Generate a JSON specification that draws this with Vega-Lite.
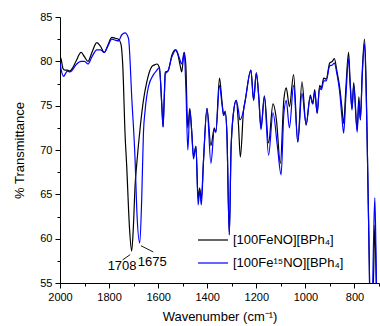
{
  "$schema": "https://vega.github.io/schema/vega-lite/v6.json",
  "width": 319,
  "height": 266,
  "autosize": {"type": "none"},
  "padding": {"left": 60, "top": 17, "right": 1, "bottom": 43},
  "config": {
    "view": {"stroke": null},
    "font": "Liberation Sans",
    "axis": {
      "grid": false,
      "domainColor": "#000000",
      "tickColor": "#000000",
      "labelColor": "#000000",
      "titleColor": "#000000",
      "labelFont": "Liberation Sans",
      "labelFontSize": 11,
      "titleFont": "Liberation Sans",
      "titleFontSize": 13,
      "titleFontWeight": "normal",
      "tickSize": 5,
      "tickWidth": 1,
      "domainWidth": 1
    },
    "legend": {
      "orient": "none",
      "legendX": 137,
      "legendY": 207,
      "symbolType": "stroke",
      "symbolSize": 900,
      "symbolStrokeWidth": 1.2,
      "labelFont": "Liberation Sans",
      "labelFontSize": 13,
      "labelColor": "#000000",
      "labelOffset": 4,
      "rowPadding": -5,
      "padding": 0
    }
  },
  "datasets": {
    "spectra": [
      {"s": "[100FeNO][BPh₄]", "wn": 2000, "t": 80.6},
      {"s": "[100FeNO][BPh₄]", "wn": 1995, "t": 80.2},
      {"s": "[100FeNO][BPh₄]", "wn": 1988, "t": 79.2},
      {"s": "[100FeNO][BPh₄]", "wn": 1980, "t": 79.0},
      {"s": "[100FeNO][BPh₄]", "wn": 1970, "t": 79.0},
      {"s": "[100FeNO][BPh₄]", "wn": 1960, "t": 78.9},
      {"s": "[100FeNO][BPh₄]", "wn": 1950, "t": 79.2},
      {"s": "[100FeNO][BPh₄]", "wn": 1935, "t": 80.0},
      {"s": "[100FeNO][BPh₄]", "wn": 1914, "t": 81.0},
      {"s": "[100FeNO][BPh₄]", "wn": 1900, "t": 80.5},
      {"s": "[100FeNO][BPh₄]", "wn": 1886, "t": 80.0},
      {"s": "[100FeNO][BPh₄]", "wn": 1870, "t": 81.0},
      {"s": "[100FeNO][BPh₄]", "wn": 1850, "t": 82.1},
      {"s": "[100FeNO][BPh₄]", "wn": 1835, "t": 81.7},
      {"s": "[100FeNO][BPh₄]", "wn": 1820, "t": 81.0},
      {"s": "[100FeNO][BPh₄]", "wn": 1805, "t": 81.8},
      {"s": "[100FeNO][BPh₄]", "wn": 1789, "t": 82.7},
      {"s": "[100FeNO][BPh₄]", "wn": 1775, "t": 82.6},
      {"s": "[100FeNO][BPh₄]", "wn": 1762, "t": 82.5},
      {"s": "[100FeNO][BPh₄]", "wn": 1752, "t": 82.0},
      {"s": "[100FeNO][BPh₄]", "wn": 1744, "t": 79.4},
      {"s": "[100FeNO][BPh₄]", "wn": 1735, "t": 71.9},
      {"s": "[100FeNO][BPh₄]", "wn": 1728, "t": 68.1},
      {"s": "[100FeNO][BPh₄]", "wn": 1717, "t": 61.3},
      {"s": "[100FeNO][BPh₄]", "wn": 1708, "t": 58.6},
      {"s": "[100FeNO][BPh₄]", "wn": 1701, "t": 61.3},
      {"s": "[100FeNO][BPh₄]", "wn": 1694, "t": 66.0},
      {"s": "[100FeNO][BPh₄]", "wn": 1687, "t": 68.5},
      {"s": "[100FeNO][BPh₄]", "wn": 1673, "t": 72.6},
      {"s": "[100FeNO][BPh₄]", "wn": 1660, "t": 75.6},
      {"s": "[100FeNO][BPh₄]", "wn": 1646, "t": 77.7},
      {"s": "[100FeNO][BPh₄]", "wn": 1626, "t": 79.4},
      {"s": "[100FeNO][BPh₄]", "wn": 1615, "t": 79.6},
      {"s": "[100FeNO][BPh₄]", "wn": 1605, "t": 79.7},
      {"s": "[100FeNO][BPh₄]", "wn": 1595, "t": 79.3},
      {"s": "[100FeNO][BPh₄]", "wn": 1585, "t": 75.0},
      {"s": "[100FeNO][BPh₄]", "wn": 1580, "t": 72.6},
      {"s": "[100FeNO][BPh₄]", "wn": 1575, "t": 76.0},
      {"s": "[100FeNO][BPh₄]", "wn": 1571, "t": 78.8},
      {"s": "[100FeNO][BPh₄]", "wn": 1560, "t": 78.9},
      {"s": "[100FeNO][BPh₄]", "wn": 1544, "t": 80.7},
      {"s": "[100FeNO][BPh₄]", "wn": 1531, "t": 81.3},
      {"s": "[100FeNO][BPh₄]", "wn": 1520, "t": 80.8},
      {"s": "[100FeNO][BPh₄]", "wn": 1510, "t": 79.5},
      {"s": "[100FeNO][BPh₄]", "wn": 1504, "t": 78.8},
      {"s": "[100FeNO][BPh₄]", "wn": 1494, "t": 81.0},
      {"s": "[100FeNO][BPh₄]", "wn": 1487, "t": 79.5},
      {"s": "[100FeNO][BPh₄]", "wn": 1482, "t": 74.0},
      {"s": "[100FeNO][BPh₄]", "wn": 1479, "t": 72.5},
      {"s": "[100FeNO][BPh₄]", "wn": 1471, "t": 74.7},
      {"s": "[100FeNO][BPh₄]", "wn": 1463, "t": 72.0},
      {"s": "[100FeNO][BPh₄]", "wn": 1456, "t": 69.3},
      {"s": "[100FeNO][BPh₄]", "wn": 1446, "t": 70.4},
      {"s": "[100FeNO][BPh₄]", "wn": 1437, "t": 64.5},
      {"s": "[100FeNO][BPh₄]", "wn": 1431, "t": 65.7},
      {"s": "[100FeNO][BPh₄]", "wn": 1424, "t": 64.5},
      {"s": "[100FeNO][BPh₄]", "wn": 1415, "t": 68.9},
      {"s": "[100FeNO][BPh₄]", "wn": 1401, "t": 74.7},
      {"s": "[100FeNO][BPh₄]", "wn": 1385, "t": 70.5},
      {"s": "[100FeNO][BPh₄]", "wn": 1371, "t": 72.5},
      {"s": "[100FeNO][BPh₄]", "wn": 1365, "t": 72.0},
      {"s": "[100FeNO][BPh₄]", "wn": 1350, "t": 78.1},
      {"s": "[100FeNO][BPh₄]", "wn": 1340, "t": 75.5},
      {"s": "[100FeNO][BPh₄]", "wn": 1333, "t": 73.9},
      {"s": "[100FeNO][BPh₄]", "wn": 1327, "t": 74.4},
      {"s": "[100FeNO][BPh₄]", "wn": 1320, "t": 72.0},
      {"s": "[100FeNO][BPh₄]", "wn": 1310, "t": 60.5},
      {"s": "[100FeNO][BPh₄]", "wn": 1303, "t": 70.0},
      {"s": "[100FeNO][BPh₄]", "wn": 1293, "t": 74.2},
      {"s": "[100FeNO][BPh₄]", "wn": 1282, "t": 75.6},
      {"s": "[100FeNO][BPh₄]", "wn": 1273, "t": 73.0},
      {"s": "[100FeNO][BPh₄]", "wn": 1265, "t": 69.2},
      {"s": "[100FeNO][BPh₄]", "wn": 1252, "t": 74.5},
      {"s": "[100FeNO][BPh₄]", "wn": 1245, "t": 75.6},
      {"s": "[100FeNO][BPh₄]", "wn": 1222, "t": 79.0},
      {"s": "[100FeNO][BPh₄]", "wn": 1211, "t": 75.6},
      {"s": "[100FeNO][BPh₄]", "wn": 1200, "t": 78.7},
      {"s": "[100FeNO][BPh₄]", "wn": 1190, "t": 76.0},
      {"s": "[100FeNO][BPh₄]", "wn": 1181, "t": 72.5},
      {"s": "[100FeNO][BPh₄]", "wn": 1167, "t": 76.1},
      {"s": "[100FeNO][BPh₄]", "wn": 1150, "t": 70.8},
      {"s": "[100FeNO][BPh₄]", "wn": 1132, "t": 75.2},
      {"s": "[100FeNO][BPh₄]", "wn": 1118, "t": 73.4},
      {"s": "[100FeNO][BPh₄]", "wn": 1102, "t": 68.5},
      {"s": "[100FeNO][BPh₄]", "wn": 1088, "t": 75.6},
      {"s": "[100FeNO][BPh₄]", "wn": 1078, "t": 77.0},
      {"s": "[100FeNO][BPh₄]", "wn": 1065, "t": 74.9},
      {"s": "[100FeNO][BPh₄]", "wn": 1048, "t": 78.5},
      {"s": "[100FeNO][BPh₄]", "wn": 1031, "t": 70.9},
      {"s": "[100FeNO][BPh₄]", "wn": 1014, "t": 77.7},
      {"s": "[100FeNO][BPh₄]", "wn": 997, "t": 72.8},
      {"s": "[100FeNO][BPh₄]", "wn": 980, "t": 76.2},
      {"s": "[100FeNO][BPh₄]", "wn": 970, "t": 75.2},
      {"s": "[100FeNO][BPh₄]", "wn": 962, "t": 76.8},
      {"s": "[100FeNO][BPh₄]", "wn": 952, "t": 74.1},
      {"s": "[100FeNO][BPh₄]", "wn": 942, "t": 77.3},
      {"s": "[100FeNO][BPh₄]", "wn": 935, "t": 77.0},
      {"s": "[100FeNO][BPh₄]", "wn": 925, "t": 78.1},
      {"s": "[100FeNO][BPh₄]", "wn": 915, "t": 78.0},
      {"s": "[100FeNO][BPh₄]", "wn": 901, "t": 79.8},
      {"s": "[100FeNO][BPh₄]", "wn": 890, "t": 80.0},
      {"s": "[100FeNO][BPh₄]", "wn": 882, "t": 80.3},
      {"s": "[100FeNO][BPh₄]", "wn": 871, "t": 78.8},
      {"s": "[100FeNO][BPh₄]", "wn": 860, "t": 77.0},
      {"s": "[100FeNO][BPh₄]", "wn": 852, "t": 75.0},
      {"s": "[100FeNO][BPh₄]", "wn": 844, "t": 73.0},
      {"s": "[100FeNO][BPh₄]", "wn": 835, "t": 77.0},
      {"s": "[100FeNO][BPh₄]", "wn": 824, "t": 81.0},
      {"s": "[100FeNO][BPh₄]", "wn": 818, "t": 78.0},
      {"s": "[100FeNO][BPh₄]", "wn": 810, "t": 74.7},
      {"s": "[100FeNO][BPh₄]", "wn": 803, "t": 77.6},
      {"s": "[100FeNO][BPh₄]", "wn": 789, "t": 72.3},
      {"s": "[100FeNO][BPh₄]", "wn": 782, "t": 76.0},
      {"s": "[100FeNO][BPh₄]", "wn": 776, "t": 73.4},
      {"s": "[100FeNO][BPh₄]", "wn": 768, "t": 79.0},
      {"s": "[100FeNO][BPh₄]", "wn": 759, "t": 82.5},
      {"s": "[100FeNO][BPh₄]", "wn": 752, "t": 77.0},
      {"s": "[100FeNO][BPh₄]", "wn": 748, "t": 70.8},
      {"s": "[100FeNO][BPh₄]", "wn": 740, "t": 58.0},
      {"s": "[100FeNO][BPh₄]", "wn": 735, "t": 50.0},
      {"s": "[100FeNO][BPh₄]", "wn": 728, "t": 50.0},
      {"s": "[100FeNO][BPh₄]", "wn": 722, "t": 56.0},
      {"s": "[100FeNO][BPh₄]", "wn": 717, "t": 61.5},
      {"s": "[100FeNO][BPh₄]", "wn": 712, "t": 56.0},
      {"s": "[100FeNO][BPh₄]", "wn": 707, "t": 50.0},
      {"s": "[100FeNO][BPh₄]", "wn": 700, "t": 50.0},
      {"s": "[100Fe¹⁵NO][BPh₄]", "wn": 2000, "t": 79.8},
      {"s": "[100Fe¹⁵NO][BPh₄]", "wn": 1995, "t": 79.0},
      {"s": "[100Fe¹⁵NO][BPh₄]", "wn": 1985, "t": 78.3},
      {"s": "[100Fe¹⁵NO][BPh₄]", "wn": 1980, "t": 78.5},
      {"s": "[100Fe¹⁵NO][BPh₄]", "wn": 1970, "t": 78.9},
      {"s": "[100Fe¹⁵NO][BPh₄]", "wn": 1960, "t": 78.8},
      {"s": "[100Fe¹⁵NO][BPh₄]", "wn": 1950, "t": 79.0},
      {"s": "[100Fe¹⁵NO][BPh₄]", "wn": 1935, "t": 79.6},
      {"s": "[100Fe¹⁵NO][BPh₄]", "wn": 1914, "t": 80.0},
      {"s": "[100Fe¹⁵NO][BPh₄]", "wn": 1900, "t": 80.0},
      {"s": "[100Fe¹⁵NO][BPh₄]", "wn": 1886, "t": 79.7},
      {"s": "[100Fe¹⁵NO][BPh₄]", "wn": 1870, "t": 80.5},
      {"s": "[100Fe¹⁵NO][BPh₄]", "wn": 1850, "t": 81.3},
      {"s": "[100Fe¹⁵NO][BPh₄]", "wn": 1835, "t": 81.3},
      {"s": "[100Fe¹⁵NO][BPh₄]", "wn": 1820, "t": 81.0},
      {"s": "[100Fe¹⁵NO][BPh₄]", "wn": 1805, "t": 81.7},
      {"s": "[100Fe¹⁵NO][BPh₄]", "wn": 1789, "t": 82.5},
      {"s": "[100Fe¹⁵NO][BPh₄]", "wn": 1775, "t": 82.4},
      {"s": "[100Fe¹⁵NO][BPh₄]", "wn": 1762, "t": 82.3},
      {"s": "[100Fe¹⁵NO][BPh₄]", "wn": 1748, "t": 83.0},
      {"s": "[100Fe¹⁵NO][BPh₄]", "wn": 1735, "t": 83.2},
      {"s": "[100Fe¹⁵NO][BPh₄]", "wn": 1721, "t": 82.6},
      {"s": "[100Fe¹⁵NO][BPh₄]", "wn": 1707, "t": 75.6},
      {"s": "[100Fe¹⁵NO][BPh₄]", "wn": 1694, "t": 68.9},
      {"s": "[100Fe¹⁵NO][BPh₄]", "wn": 1687, "t": 63.2},
      {"s": "[100Fe¹⁵NO][BPh₄]", "wn": 1675, "t": 59.5},
      {"s": "[100Fe¹⁵NO][BPh₄]", "wn": 1667, "t": 64.5},
      {"s": "[100Fe¹⁵NO][BPh₄]", "wn": 1660, "t": 71.9},
      {"s": "[100Fe¹⁵NO][BPh₄]", "wn": 1653, "t": 74.5},
      {"s": "[100Fe¹⁵NO][BPh₄]", "wn": 1640, "t": 77.1},
      {"s": "[100Fe¹⁵NO][BPh₄]", "wn": 1619, "t": 78.5},
      {"s": "[100Fe¹⁵NO][BPh₄]", "wn": 1605, "t": 79.0},
      {"s": "[100Fe¹⁵NO][BPh₄]", "wn": 1595, "t": 79.3},
      {"s": "[100Fe¹⁵NO][BPh₄]", "wn": 1585, "t": 75.0},
      {"s": "[100Fe¹⁵NO][BPh₄]", "wn": 1580, "t": 72.6},
      {"s": "[100Fe¹⁵NO][BPh₄]", "wn": 1575, "t": 76.0},
      {"s": "[100Fe¹⁵NO][BPh₄]", "wn": 1571, "t": 78.6},
      {"s": "[100Fe¹⁵NO][BPh₄]", "wn": 1560, "t": 78.9},
      {"s": "[100Fe¹⁵NO][BPh₄]", "wn": 1544, "t": 80.5},
      {"s": "[100Fe¹⁵NO][BPh₄]", "wn": 1527, "t": 81.3},
      {"s": "[100Fe¹⁵NO][BPh₄]", "wn": 1515, "t": 80.5},
      {"s": "[100Fe¹⁵NO][BPh₄]", "wn": 1504, "t": 79.7},
      {"s": "[100Fe¹⁵NO][BPh₄]", "wn": 1494, "t": 81.0},
      {"s": "[100Fe¹⁵NO][BPh₄]", "wn": 1487, "t": 77.0},
      {"s": "[100Fe¹⁵NO][BPh₄]", "wn": 1479, "t": 70.0},
      {"s": "[100Fe¹⁵NO][BPh₄]", "wn": 1471, "t": 74.5},
      {"s": "[100Fe¹⁵NO][BPh₄]", "wn": 1463, "t": 72.0},
      {"s": "[100Fe¹⁵NO][BPh₄]", "wn": 1456, "t": 69.0},
      {"s": "[100Fe¹⁵NO][BPh₄]", "wn": 1446, "t": 70.4},
      {"s": "[100Fe¹⁵NO][BPh₄]", "wn": 1437, "t": 63.8},
      {"s": "[100Fe¹⁵NO][BPh₄]", "wn": 1431, "t": 65.5},
      {"s": "[100Fe¹⁵NO][BPh₄]", "wn": 1424, "t": 63.8},
      {"s": "[100Fe¹⁵NO][BPh₄]", "wn": 1415, "t": 68.9},
      {"s": "[100Fe¹⁵NO][BPh₄]", "wn": 1401, "t": 74.7},
      {"s": "[100Fe¹⁵NO][BPh₄]", "wn": 1385, "t": 68.5},
      {"s": "[100Fe¹⁵NO][BPh₄]", "wn": 1371, "t": 72.3},
      {"s": "[100Fe¹⁵NO][BPh₄]", "wn": 1365, "t": 72.0},
      {"s": "[100Fe¹⁵NO][BPh₄]", "wn": 1350, "t": 77.3},
      {"s": "[100Fe¹⁵NO][BPh₄]", "wn": 1340, "t": 75.2},
      {"s": "[100Fe¹⁵NO][BPh₄]", "wn": 1333, "t": 73.9},
      {"s": "[100Fe¹⁵NO][BPh₄]", "wn": 1327, "t": 74.2},
      {"s": "[100Fe¹⁵NO][BPh₄]", "wn": 1320, "t": 72.0},
      {"s": "[100Fe¹⁵NO][BPh₄]", "wn": 1310, "t": 60.4},
      {"s": "[100Fe¹⁵NO][BPh₄]", "wn": 1303, "t": 70.0},
      {"s": "[100Fe¹⁵NO][BPh₄]", "wn": 1293, "t": 74.2},
      {"s": "[100Fe¹⁵NO][BPh₄]", "wn": 1282, "t": 75.6},
      {"s": "[100Fe¹⁵NO][BPh₄]", "wn": 1273, "t": 74.5},
      {"s": "[100Fe¹⁵NO][BPh₄]", "wn": 1267, "t": 73.4},
      {"s": "[100Fe¹⁵NO][BPh₄]", "wn": 1252, "t": 74.5},
      {"s": "[100Fe¹⁵NO][BPh₄]", "wn": 1245, "t": 75.6},
      {"s": "[100Fe¹⁵NO][BPh₄]", "wn": 1222, "t": 79.0},
      {"s": "[100Fe¹⁵NO][BPh₄]", "wn": 1211, "t": 75.6},
      {"s": "[100Fe¹⁵NO][BPh₄]", "wn": 1200, "t": 78.7},
      {"s": "[100Fe¹⁵NO][BPh₄]", "wn": 1190, "t": 76.0},
      {"s": "[100Fe¹⁵NO][BPh₄]", "wn": 1181, "t": 72.3},
      {"s": "[100Fe¹⁵NO][BPh₄]", "wn": 1167, "t": 76.0},
      {"s": "[100Fe¹⁵NO][BPh₄]", "wn": 1150, "t": 69.4},
      {"s": "[100Fe¹⁵NO][BPh₄]", "wn": 1132, "t": 74.2},
      {"s": "[100Fe¹⁵NO][BPh₄]", "wn": 1114, "t": 70.4},
      {"s": "[100Fe¹⁵NO][BPh₄]", "wn": 1099, "t": 67.2},
      {"s": "[100Fe¹⁵NO][BPh₄]", "wn": 1088, "t": 74.0},
      {"s": "[100Fe¹⁵NO][BPh₄]", "wn": 1078, "t": 75.6},
      {"s": "[100Fe¹⁵NO][BPh₄]", "wn": 1065, "t": 72.5},
      {"s": "[100Fe¹⁵NO][BPh₄]", "wn": 1048, "t": 77.3},
      {"s": "[100Fe¹⁵NO][BPh₄]", "wn": 1031, "t": 70.9},
      {"s": "[100Fe¹⁵NO][BPh₄]", "wn": 1014, "t": 76.4},
      {"s": "[100Fe¹⁵NO][BPh₄]", "wn": 997, "t": 72.9},
      {"s": "[100Fe¹⁵NO][BPh₄]", "wn": 980, "t": 76.0},
      {"s": "[100Fe¹⁵NO][BPh₄]", "wn": 970, "t": 75.2},
      {"s": "[100Fe¹⁵NO][BPh₄]", "wn": 962, "t": 76.5},
      {"s": "[100Fe¹⁵NO][BPh₄]", "wn": 952, "t": 74.2},
      {"s": "[100Fe¹⁵NO][BPh₄]", "wn": 942, "t": 77.0},
      {"s": "[100Fe¹⁵NO][BPh₄]", "wn": 935, "t": 76.8},
      {"s": "[100Fe¹⁵NO][BPh₄]", "wn": 925, "t": 77.8},
      {"s": "[100Fe¹⁵NO][BPh₄]", "wn": 915, "t": 77.8},
      {"s": "[100Fe¹⁵NO][BPh₄]", "wn": 901, "t": 79.5},
      {"s": "[100Fe¹⁵NO][BPh₄]", "wn": 890, "t": 79.6},
      {"s": "[100Fe¹⁵NO][BPh₄]", "wn": 882, "t": 79.8},
      {"s": "[100Fe¹⁵NO][BPh₄]", "wn": 871, "t": 78.5},
      {"s": "[100Fe¹⁵NO][BPh₄]", "wn": 860, "t": 76.5},
      {"s": "[100Fe¹⁵NO][BPh₄]", "wn": 852, "t": 74.0},
      {"s": "[100Fe¹⁵NO][BPh₄]", "wn": 844, "t": 71.9},
      {"s": "[100Fe¹⁵NO][BPh₄]", "wn": 835, "t": 76.0},
      {"s": "[100Fe¹⁵NO][BPh₄]", "wn": 824, "t": 80.3},
      {"s": "[100Fe¹⁵NO][BPh₄]", "wn": 818, "t": 77.5},
      {"s": "[100Fe¹⁵NO][BPh₄]", "wn": 810, "t": 74.5},
      {"s": "[100Fe¹⁵NO][BPh₄]", "wn": 803, "t": 77.3},
      {"s": "[100Fe¹⁵NO][BPh₄]", "wn": 789, "t": 72.0},
      {"s": "[100Fe¹⁵NO][BPh₄]", "wn": 782, "t": 75.5},
      {"s": "[100Fe¹⁵NO][BPh₄]", "wn": 776, "t": 73.4},
      {"s": "[100Fe¹⁵NO][BPh₄]", "wn": 768, "t": 78.5},
      {"s": "[100Fe¹⁵NO][BPh₄]", "wn": 759, "t": 82.0},
      {"s": "[100Fe¹⁵NO][BPh₄]", "wn": 752, "t": 76.0},
      {"s": "[100Fe¹⁵NO][BPh₄]", "wn": 748, "t": 70.8},
      {"s": "[100Fe¹⁵NO][BPh₄]", "wn": 740, "t": 58.0},
      {"s": "[100Fe¹⁵NO][BPh₄]", "wn": 735, "t": 50.0},
      {"s": "[100Fe¹⁵NO][BPh₄]", "wn": 728, "t": 52.0},
      {"s": "[100Fe¹⁵NO][BPh₄]", "wn": 722, "t": 60.0},
      {"s": "[100Fe¹⁵NO][BPh₄]", "wn": 717, "t": 64.6},
      {"s": "[100Fe¹⁵NO][BPh₄]", "wn": 712, "t": 58.0},
      {"s": "[100Fe¹⁵NO][BPh₄]", "wn": 707, "t": 50.0},
      {"s": "[100Fe¹⁵NO][BPh₄]", "wn": 700, "t": 50.0}
    ],
    "leaders": [
      {"x": 1745, "y": 57.6, "x2": 1714, "y2": 58.2},
      {"x": 1670, "y": 59.2, "x2": 1620, "y2": 58.5}
    ],
    "peaks": [
      {"label": "1708", "x": 1747, "y": 56.9},
      {"label": "1675", "x": 1624, "y": 57.4}
    ]
  },
  "resolve": {"axis": {"x": "independent", "y": "independent"}},
  "layer": [
    {
      "data": {"name": "spectra"},
      "transform": [{"filter": {"field": "s", "equal": "[100FeNO][BPh₄]"}}],
      "mark": {"type": "line", "strokeWidth": 1.2, "interpolate": "monotone", "clip": true},
      "encoding": {
        "x": {
          "field": "wn", "type": "quantitative",
          "scale": {"domain": [700, 2000], "reverse": true, "nice": false, "zero": false},
          "axis": {"values": [2000, 1800, 1600, 1400, 1200, 1000, 800], "format": "d", "title": "Wavenumber (cm⁻¹)", "orient": "bottom", "labelPadding": 3, "titlePadding": 8, "labelFlush": false}
        },
        "y": {
          "field": "t", "type": "quantitative",
          "scale": {"domain": [55, 85], "nice": false, "zero": false},
          "axis": {"values": [55, 60, 65, 70, 75, 80, 85], "format": "d", "title": "% Transmittance", "orient": "left", "labelPadding": 3, "titlePadding": 13}
        },
        "color": {
          "field": "s", "type": "nominal",
          "scale": {"domain": ["[100FeNO][BPh₄]", "[100Fe¹⁵NO][BPh₄]"], "range": ["#000000", "#0000ff"]},
          "legend": {"title": null}
        }
      }
    },
    {
      "data": {"name": "spectra"},
      "transform": [{"filter": {"field": "s", "equal": "[100Fe¹⁵NO][BPh₄]"}}],
      "mark": {"type": "line", "strokeWidth": 1.2, "interpolate": "monotone", "clip": true},
      "encoding": {
        "x": {"field": "wn", "type": "quantitative", "axis": null},
        "y": {"field": "t", "type": "quantitative", "axis": null},
        "color": {"field": "s", "type": "nominal", "legend": {"title": null}}
      }
    },
    {
      "data": {"name": "leaders"},
      "mark": {"type": "rule", "color": "#000000", "strokeWidth": 0.9},
      "encoding": {
        "x": {"field": "x", "type": "quantitative", "axis": null},
        "y": {"field": "y", "type": "quantitative", "axis": null},
        "x2": {"field": "x2"},
        "y2": {"field": "y2"}
      }
    },
    {
      "data": {"name": "peaks"},
      "mark": {"type": "text", "fontSize": 13, "font": "Liberation Sans", "color": "#000000", "align": "center", "baseline": "middle"},
      "encoding": {
        "x": {
          "field": "x", "type": "quantitative",
          "axis": {"values": [1900, 1700, 1500, 1300, 1100, 900, 700], "orient": "bottom", "tickSize": 3, "labels": false, "domain": false, "title": null}
        },
        "y": {
          "field": "y", "type": "quantitative",
          "axis": {"values": [57.5, 62.5, 67.5, 72.5, 77.5, 82.5], "orient": "left", "tickSize": 3, "labels": false, "domain": false, "title": null}
        },
        "text": {"field": "label"}
      }
    }
  ]
}
